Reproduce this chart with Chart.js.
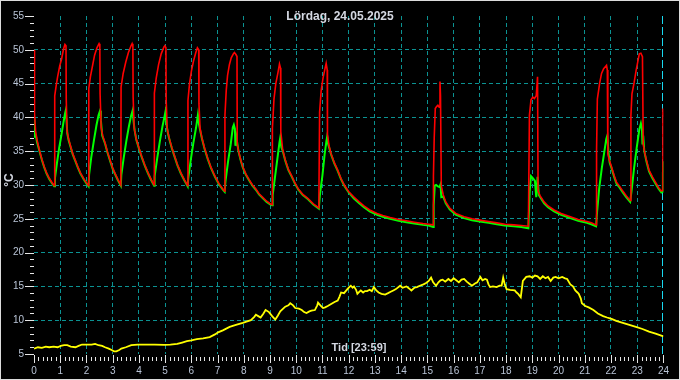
<!DOCTYPE html>
<html><head><meta charset="utf-8">
<script src="https://cdn.jsdelivr.net/npm/chart.js@4.4.0/dist/chart.umd.min.js"></script>
<style>html,body{margin:0;padding:0;background:#000;}canvas{display:block;}</style>
</head><body>
<canvas id="c" width="680" height="380"></canvas>
<script>
const titleText = 'Lördag, 24.05.2025';
const xAxisText = 'Tid [23:59]';
const yAxisText = '°C';

// [hour, °C]
const redPoints = [[0.00,50.0],[0.02,40.5],[0.06,38.0],[0.12,36.6],[0.21,35.1],[0.30,33.8],[0.39,32.7],[0.48,31.8],[0.58,31.0],[0.68,30.4],[0.77,29.9],
[0.79,43.2],[0.85,44.8],[0.90,46.0],[0.98,47.6],[1.05,48.6],[1.12,50.0],[1.18,50.8],[1.22,50.6],[1.23,42.7],[1.26,38.0],[1.32,36.8],[1.39,35.8],[1.48,34.6],[1.58,33.6],[1.68,32.6],[1.77,31.8],[1.90,30.9],[2.02,30.2],[2.08,29.9],
[2.09,44.3],[2.15,46.0],[2.23,47.6],[2.31,49.2],[2.40,50.3],[2.48,50.9],[2.51,50.6],[2.52,43.5],[2.56,38.5],[2.62,37.3],[2.71,36.2],[2.80,34.9],[2.89,33.8],[3.00,32.5],[3.08,31.8],[3.20,30.8],[3.31,30.0],
[3.32,44.5],[3.40,46.5],[3.50,48.2],[3.60,49.6],[3.70,50.6],[3.74,50.9],[3.77,50.5],[3.78,43.0],[3.82,38.4],[3.90,36.8],[4.00,35.5],[4.10,34.3],[4.22,33.0],[4.35,31.8],[4.47,30.8],[4.58,30.0],
[4.59,43.6],[4.66,45.8],[4.75,47.8],[4.85,49.4],[4.95,50.4],[4.99,50.6],[5.03,50.3],[5.04,42.5],[5.08,38.3],[5.15,37.0],[5.25,35.6],[5.35,34.4],[5.47,33.0],[5.60,31.8],[5.73,30.8],[5.86,29.9],
[5.87,42.5],[5.93,45.0],[6.00,46.8],[6.08,48.3],[6.17,49.6],[6.23,50.3],[6.28,50.0],[6.29,42.0],[6.33,38.5],[6.40,37.0],[6.50,35.5],[6.62,34.0],[6.75,32.6],[6.90,31.3],[7.05,30.2],[7.20,29.4],[7.27,29.1],
[7.28,40.3],[7.33,44.0],[7.38,46.2],[7.45,47.8],[7.52,48.8],[7.60,49.4],[7.64,49.6],[7.70,49.3],[7.74,49.0],[7.75,36.0],[7.80,35.0],[7.89,33.6],[7.96,32.7],[8.08,31.6],[8.20,30.8],[8.33,30.0],[8.46,29.4],[8.58,28.7],[8.71,28.2],[8.87,27.6],[9.02,27.2],[9.08,27.1],
[9.09,38.4],[9.15,42.7],[9.22,45.0],[9.30,46.6],[9.36,47.9],[9.40,47.3],[9.41,37.9],[9.48,35.3],[9.58,33.7],[9.70,32.3],[9.83,31.3],[9.95,30.3],[10.08,29.4],[10.25,28.6],[10.45,28.0],[10.65,27.2],[10.86,26.6],
[10.89,40.8],[10.95,44.0],[11.02,45.8],[11.10,47.3],[11.14,48.0],[11.18,47.0],[11.19,37.5],[11.25,35.8],[11.33,34.6],[11.45,33.3],[11.58,32.2],[11.70,31.0],[11.83,30.0],[12.00,29.0],[12.20,28.2],[12.40,27.5],[12.58,26.9],[12.80,26.3],[13.08,25.8],[13.30,25.5],[13.58,25.2],[13.90,24.9],[14.20,24.7],[14.50,24.5],[14.83,24.3],[15.05,24.2],[15.22,24.1],
[15.23,31.3],[15.26,37.0],[15.30,41.3],[15.35,41.6],[15.40,41.8],[15.45,41.5],[15.48,45.3],[15.50,43.2],[15.53,29.9],[15.60,28.6],[15.70,27.5],[15.85,26.6],[16.08,25.8],[16.40,25.3],[16.70,25.0],[17.00,24.8],[17.33,24.6],[17.65,24.4],[17.95,24.2],[18.30,24.1],[18.58,24.0],[18.85,23.9],
[18.89,40.3],[18.95,42.6],[19.02,43.0],[19.08,42.8],[19.15,43.2],[19.20,46.0],[19.22,29.1],[19.30,28.4],[19.45,27.5],[19.60,26.9],[19.83,26.3],[20.10,25.8],[20.45,25.3],[20.75,24.9],[21.08,24.6],[21.25,24.4],[21.43,24.1],
[21.45,35.1],[21.48,42.7],[21.57,45.1],[21.64,46.5],[21.72,47.2],[21.83,47.7],[21.86,47.0],[21.88,34.6],[21.95,33.5],[22.02,32.7],[22.12,31.4],[22.21,30.4],[22.33,29.8],[22.45,29.1],[22.58,28.4],[22.73,27.7],
[22.76,40.3],[22.80,43.5],[22.88,45.1],[22.96,47.0],[23.03,48.4],[23.08,49.4],[23.14,49.5],[23.20,49.0],[23.23,36.0],[23.30,34.5],[23.45,32.2],[23.58,31.2],[23.70,30.4],[23.82,29.6],[23.92,29.1],[23.97,29.2],[23.98,41.3],[24.00,40.0]];

const greenPoints = [[0.00,39.9],[0.01,37.0],[0.02,39.6],[0.04,37.4],[0.07,37.3],[0.12,36.3],[0.21,35.0],[0.30,33.7],[0.39,32.6],[0.48,31.7],[0.58,30.9],[0.68,30.3],[0.77,29.8],
[0.80,31.0],[0.88,33.4],[0.96,35.5],[1.05,37.5],[1.12,39.2],[1.18,40.5],[1.21,41.0],[1.24,39.6],[1.27,37.6],[1.32,36.6],[1.39,35.7],[1.48,34.5],[1.58,33.5],[1.68,32.5],[1.77,31.7],[1.90,30.8],[2.02,30.1],[2.08,29.8],
[2.10,31.5],[2.18,34.0],[2.28,36.5],[2.38,38.8],[2.46,40.3],[2.52,41.0],[2.55,39.6],[2.60,37.3],[2.71,36.1],[2.80,34.8],[2.89,33.7],[3.00,32.4],[3.08,31.7],[3.20,30.7],[3.31,29.9],
[3.33,31.5],[3.42,34.0],[3.52,36.5],[3.62,38.7],[3.70,40.2],[3.76,41.0],[3.80,39.3],[3.84,38.0],[3.90,36.7],[4.00,35.4],[4.10,34.2],[4.22,32.9],[4.35,31.7],[4.47,30.7],[4.58,29.9],
[4.60,31.3],[4.70,34.0],[4.80,36.5],[4.90,38.7],[4.97,40.0],[5.01,40.8],[5.05,39.0],[5.10,37.8],[5.15,36.9],[5.25,35.5],[5.35,34.3],[5.47,32.9],[5.60,31.7],[5.73,30.7],[5.86,29.8],
[5.88,31.0],[5.98,33.8],[6.08,36.3],[6.18,38.5],[6.25,40.4],[6.29,39.0],[6.33,38.2],[6.40,36.9],[6.50,35.4],[6.62,33.9],[6.75,32.5],[6.90,31.2],[7.05,30.1],[7.20,29.3],[7.27,29.0],
[7.30,30.5],[7.40,33.5],[7.50,36.0],[7.58,38.5],[7.62,38.9],[7.66,38.3],[7.68,35.8],[7.72,37.0],[7.75,36.2],[7.80,34.9],[7.89,33.5],[7.96,32.6],[8.08,31.5],[8.20,30.7],[8.33,29.9],[8.46,29.3],[8.58,28.6],[8.71,28.1],[8.87,27.5],[9.02,27.1],[9.08,27.0],
[9.10,28.5],[9.20,31.5],[9.30,34.5],[9.36,36.3],[9.39,37.0],[9.43,35.6],[9.48,35.1],[9.58,33.6],[9.70,32.2],[9.83,31.2],[9.95,30.2],[10.08,29.3],[10.25,28.5],[10.45,27.9],[10.65,27.1],[10.86,26.5],
[10.90,28.5],[11.00,31.5],[11.08,34.5],[11.15,36.5],[11.18,37.2],[11.22,36.0],[11.33,34.5],[11.45,33.2],[11.58,32.1],[11.70,30.9],[11.83,29.9],[12.00,28.9],[12.20,28.0],[12.40,27.3],[12.58,26.7],[12.80,26.1],[13.08,25.6],[13.30,25.3],[13.58,25.0],[13.90,24.7],[14.20,24.5],[14.50,24.3],[14.83,24.1],[15.05,24.0],[15.22,23.8],
[15.24,27.0],[15.28,29.9],[15.33,30.0],[15.40,29.8],[15.46,29.7],[15.50,30.1],[15.53,28.2],[15.60,28.3],[15.70,27.3],[15.85,26.4],[16.08,25.6],[16.40,25.1],[16.70,24.8],[17.00,24.6],[17.33,24.4],[17.65,24.2],[17.95,24.0],[18.30,23.9],[18.58,23.8],[18.85,23.6],
[18.90,29.0],[18.95,31.3],[19.02,31.0],[19.10,30.6],[19.15,28.2],[19.20,31.2],[19.25,28.5],[19.30,28.2],[19.45,27.3],[19.60,26.7],[19.83,26.1],[20.10,25.6],[20.45,25.1],[20.75,24.7],[21.08,24.4],[21.25,24.2],[21.43,23.9],
[21.47,26.0],[21.55,29.5],[21.65,32.5],[21.75,35.0],[21.82,36.8],[21.86,37.3],[21.90,35.0],[21.95,33.3],[22.02,32.5],[22.12,31.2],[22.21,30.2],[22.33,29.6],[22.45,28.9],[22.58,28.2],[22.73,27.5],
[22.78,29.0],[22.88,32.5],[22.98,35.5],[23.08,38.2],[23.14,39.1],[23.18,38.3],[23.20,36.0],[23.23,37.3],[23.27,35.0],[23.35,33.5],[23.45,32.0],[23.58,31.0],[23.70,30.2],[23.82,29.4],[23.92,28.9],[23.97,29.0],[23.98,31.8],[24.00,33.5]];

const yellowPoints = [[0.00,5.8],[0.15,6.0],[0.30,5.9],[0.45,6.1],[0.58,6.0],[0.75,6.1],[0.90,6.0],[1.02,6.2],[1.15,6.3],[1.27,6.3],[1.40,6.1],[1.58,6.0],[1.70,6.2],[1.83,6.4],[2.00,6.4],[2.20,6.4],[2.33,6.5],[2.46,6.3],[2.60,6.2],[2.71,6.0],[2.85,5.8],[2.96,5.6],[3.05,5.4],[3.14,5.4],[3.25,5.6],[3.33,5.8],[3.50,6.0],[3.71,6.3],[3.96,6.4],[4.30,6.4],[4.60,6.4],[4.96,6.35],[5.20,6.4],[5.46,6.5],[5.65,6.7],[5.83,6.9],[6.00,7.0],[6.21,7.2],[6.45,7.3],[6.70,7.5],[6.90,7.9],[7.02,8.2],[7.20,8.5],[7.46,9.0],[7.70,9.3],[7.96,9.6],[8.10,9.8],[8.27,10.0],[8.40,10.5],[8.46,10.8],[8.55,10.6],[8.64,10.4],[8.75,11.0],[8.83,11.5],[8.96,11.2],[9.08,10.6],[9.20,10.1],[9.30,10.7],[9.39,11.3],[9.50,11.7],[9.58,12.0],[9.70,12.2],[9.77,12.5],[9.88,12.2],[9.96,11.8],[10.10,11.7],[10.21,11.5],[10.30,11.2],[10.39,11.05],[10.50,11.3],[10.58,11.4],[10.71,11.5],[10.80,12.2],[10.83,12.6],[10.92,12.2],[11.02,11.8],[11.10,11.9],[11.20,12.1],[11.33,12.4],[11.46,12.7],[11.58,12.9],[11.65,13.5],[11.71,14.1],[11.82,14.0],[11.95,14.6],[12.02,14.9],[12.08,15.1],[12.15,14.8],[12.20,15.0],[12.28,14.5],[12.33,13.9],[12.40,14.2],[12.46,14.4],[12.55,14.1],[12.62,14.3],[12.70,14.3],[12.80,14.5],[12.88,14.3],[12.96,14.9],[13.05,14.4],[13.14,14.1],[13.25,13.9],[13.39,13.8],[13.50,14.0],[13.60,14.2],[13.70,14.4],[13.80,14.6],[13.96,15.1],[14.05,14.8],[14.20,15.0],[14.30,14.7],[14.39,14.4],[14.50,14.8],[14.60,14.9],[14.71,15.1],[14.85,15.3],[14.95,15.5],[15.05,15.8],[15.14,16.3],[15.22,15.6],[15.33,15.1],[15.42,15.6],[15.50,15.9],[15.58,16.0],[15.68,15.7],[15.80,16.1],[15.90,15.8],[16.00,16.2],[16.10,15.9],[16.20,15.6],[16.30,16.0],[16.40,16.1],[16.50,15.7],[16.60,15.4],[16.70,15.1],[16.80,15.4],[16.90,15.6],[17.02,16.4],[17.10,15.9],[17.20,16.1],[17.27,16.0],[17.33,15.3],[17.39,14.9],[17.50,15.0],[17.64,14.9],[17.75,15.1],[17.83,15.1],[17.89,16.3],[17.95,15.3],[18.02,14.6],[18.15,14.5],[18.33,14.4],[18.40,14.1],[18.46,13.9],[18.56,13.4],[18.60,14.6],[18.64,15.8],[18.77,16.4],[18.90,16.5],[19.00,16.3],[19.10,16.6],[19.20,16.5],[19.30,16.1],[19.40,16.5],[19.50,16.2],[19.60,16.4],[19.70,15.8],[19.80,16.3],[19.89,16.4],[20.00,16.2],[20.14,16.4],[20.25,16.2],[20.33,16.1],[20.45,15.3],[20.55,15.0],[20.64,14.4],[20.72,14.1],[20.77,13.9],[20.85,13.2],[20.89,12.5],[21.02,12.1],[21.15,11.9],[21.33,11.5],[21.50,11.0],[21.70,10.6],[21.85,10.4],[22.02,10.2],[22.20,9.9],[22.45,9.6],[22.70,9.3],[22.95,9.0],[23.20,8.7],[23.45,8.3],[23.70,8.0],[24.00,7.6]];

const xMin = 0, xMax = 24, xStep = 1;
const yMin = 5, yMax = 55, yStep = 5;

const toXY = pts => pts.map(p => ({x: p[0], y: p[1]}));
const GRID = '#0b9292';
const TICKTXT = '#b9c4d6';
const FONT = '"Liberation Sans", Arial, sans-serif';

const decor = {
  id: 'decor',
  beforeDraw(chart) {
    const c = chart.ctx;
    c.save(); c.fillStyle = '#000'; c.fillRect(0, 0, chart.width, chart.height); c.restore();
  },
  beforeDatasetsDraw(chart) {
    const c = chart.ctx, xs = chart.scales.x, a = chart.chartArea;
    const px = Math.round(xs.getPixelForValue(xMax)) - 0.5;
    c.save(); c.strokeStyle = '#19d9f0'; c.lineWidth = 1; c.setLineDash([8, 3]);
    c.beginPath(); c.moveTo(px, a.top); c.lineTo(px, a.bottom); c.stroke(); c.restore();
  },
  afterDraw(chart) {
    const c = chart.ctx, xs = chart.scales.x, ys = chart.scales.y, a = chart.chartArea;
    c.save();
    c.strokeStyle = '#e6e6e6'; c.lineWidth = 1;
    c.beginPath();
    for (let v = yMin; v <= yMax; v++) {
      const py = Math.round(ys.getPixelForValue(v)) + 0.5;
      const len = (v % 5 === 0) ? 9 : 4;
      c.moveTo(a.left - len, py); c.lineTo(a.left, py);
    }
    for (let m = 0; m <= 144; m++) {
      const px = Math.round(xs.getPixelForValue(m / 6)) + 0.5;
      if (m % 6 === 0) { c.moveTo(px, a.bottom + 1); c.lineTo(px, a.bottom + 9); }
      else { c.moveTo(px, a.bottom + 3); c.lineTo(px, a.bottom + 7); }
    }
    c.stroke();
    c.fillStyle = '#d4d8e2';
    c.textAlign = 'center'; c.textBaseline = 'middle';
    c.font = 'bold 12px ' + FONT;
    c.fillText(titleText, 340, 17);
    c.font = 'bold 11px ' + FONT;
    c.fillText(xAxisText, 359, 348);
    c.translate(10, 180); c.rotate(-Math.PI / 2);
    c.font = 'bold 12px ' + FONT;
    c.fillText(yAxisText, 0, 0);
    c.restore();
    c.save(); c.strokeStyle = '#dcdcdc'; c.lineWidth = 1;
    c.strokeRect(0.5, 0.5, chart.width - 1, chart.height - 1); c.restore();
  }
};

new Chart(document.getElementById('c'), {
  type: 'line',
  data: {
    datasets: [
      {data: toXY(redPoints), borderColor: '#ff0000', borderWidth: 1.6},
      {data: toXY(greenPoints), borderColor: '#00ff00', borderWidth: 2},
      {data: toXY(yellowPoints), borderColor: '#ffff00', borderWidth: 1.8}
    ]
  },
  options: {
    responsive: false, animation: false,
    elements: {point: {radius: 0}, line: {tension: 0}},
    layout: {padding: {left: 0, right: 5.5, top: 4, bottom: 0}},
    plugins: {legend: {display: false}, tooltip: {enabled: false}, title: {display: false}},
    scales: {
      x: {
        type: 'linear', min: xMin, max: xMax,
        afterFit(s) { s.height = 26; },
        ticks: {stepSize: xStep, color: TICKTXT, font: {family: FONT, size: 10}, padding: 11, maxRotation: 0, autoSkip: false},
        grid: {drawTicks: false, lineWidth: 1, color: ctx => (ctx.tick && (ctx.tick.value === xMin || ctx.tick.value === xMax)) ? 'rgba(0,0,0,0)' : GRID},
        border: {display: false, dash: [4, 3]}
      },
      y: {
        min: yMin, max: yMax,
        afterFit(s) { s.width = 34; },
        ticks: {stepSize: yStep, color: TICKTXT, font: {family: FONT, size: 10}, padding: 10},
        grid: {drawTicks: false, lineWidth: 1, color: ctx => (ctx.tick && (ctx.tick.value === yMin || ctx.tick.value === yMax)) ? 'rgba(0,0,0,0)' : GRID},
        border: {display: false, dash: [4, 3]}
      }
    }
  },
  plugins: [decor]
});
</script>
</body></html>
